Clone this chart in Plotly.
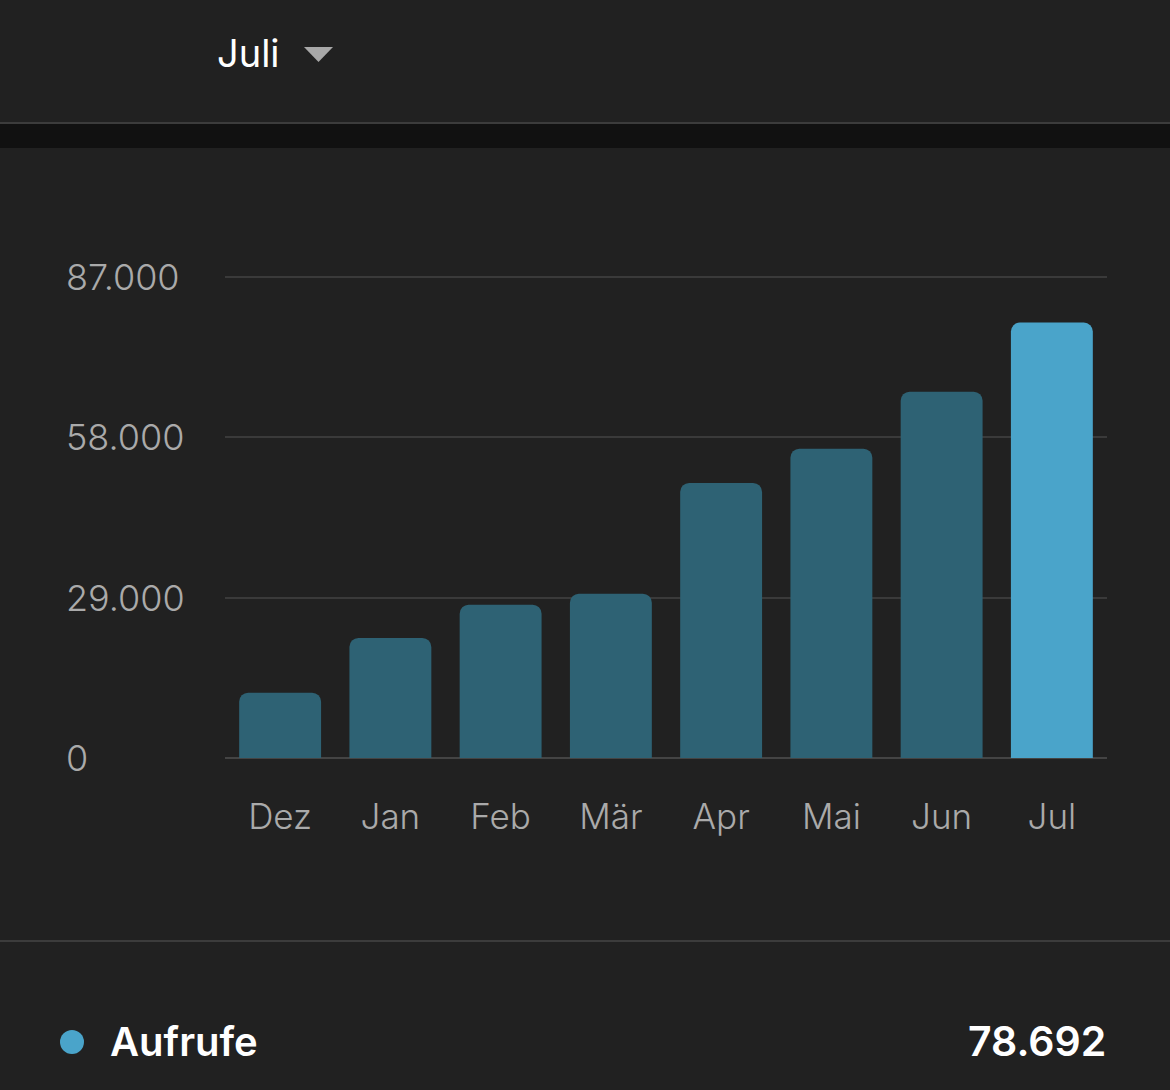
import plotly.graph_objects as go

months = ["Dez", "Jan", "Feb", "Mär", "Apr", "Mai", "Jun", "Jul"]
views = [11800, 21700, 27700, 29700, 49700, 55900, 66200, 78692]
y_ticks = [0, 29000, 58000, 87000]
y_tick_labels = ["0", "29.000", "58.000", "87.000"]
selected_month = "Juli"
legend_name = "Aufrufe"
legend_value = "78.692"

BG = "#212121"
DIM = "#2e6274"
BRIGHT = "#4aa4ca"
GRID = "#3a3a3a"
FONT = "Inter"

# pixel -> paper helpers (plot area: x 225..1107, y bottom 758, height 487)
L, R, T, B = 225, 63, 271, 332
PW = 1170 - L - R
PH = 1090 - T - B
def X(px):
    return (px - L) / PW
def Y(py):
    return (1090 - B - py) / PH

colors = [BRIGHT if i == len(views) - 1 else DIM for i in range(len(views))]

fig = go.Figure(go.Bar(
    x=months, y=views,
    marker=dict(color=colors, line=dict(width=0), cornerradius=9),
    hoverinfo="skip",
))

shapes = [
    dict(type="rect", xref="paper", yref="paper", x0=X(0), x1=X(1170), y0=Y(148), y1=Y(124),
         fillcolor="#111111", line=dict(width=0), layer="below"),
    dict(type="rect", xref="paper", yref="paper", x0=X(0), x1=X(1170), y0=Y(124), y1=Y(122),
         fillcolor="#3c3c3c", line=dict(width=0), layer="below"),
    dict(type="rect", xref="paper", yref="paper", x0=X(0), x1=X(1170), y0=Y(942), y1=Y(940),
         fillcolor="#3c3c3c", line=dict(width=0), layer="below"),
    dict(type="path", xref="paper", yref="paper",
         path=f"M {X(304)} {Y(47)} L {X(333)} {Y(47)} L {X(318.5)} {Y(62)} Z",
         fillcolor="#a8a8a8", line=dict(width=0)),
    dict(type="circle", xref="paper", yref="paper", x0=X(60), x1=X(84), y0=Y(1054), y1=Y(1030),
         fillcolor=BRIGHT, line=dict(width=0)),
]

annotations = [
    dict(text=selected_month, xref="paper", yref="paper", x=X(215), y=Y(53),
         xanchor="left", yanchor="middle", showarrow=False,
         font=dict(family=FONT, size=38, color="#ffffff")),
    dict(text=legend_name, xref="paper", yref="paper", x=X(108), y=Y(1041),
         xanchor="left", yanchor="middle", showarrow=False,
         font=dict(family=FONT, size=40, color="#ffffff", weight=600)),
    dict(text=legend_value, xref="paper", yref="paper", x=X(1108), y=Y(1041),
         xanchor="right", yanchor="middle", showarrow=False,
         font=dict(family=FONT, size=41, color="#ffffff", weight=600)),
]
for v, t in zip(y_ticks, y_tick_labels):
    annotations.append(dict(text=t, xref="paper", yref="y", x=X(64), y=v,
                            xanchor="left", yanchor="middle", showarrow=False,
                            font=dict(family=FONT, size=36, color="#aaaaaa", weight=300)))

fig.update_layout(
    width=1170, height=1090,
    margin=dict(l=L, r=R, t=T, b=B),
    paper_bgcolor=BG, plot_bgcolor=BG,
    bargap=0.257,
    showlegend=False,
    shapes=shapes,
    annotations=annotations,
    xaxis=dict(showgrid=False, showline=False, zeroline=False, ticks="",
               tickfont=dict(family=FONT, size=35, color="#aaaaaa", weight=300),
               ticklabelstandoff=35, fixedrange=True),
    yaxis=dict(range=[0, 88000], tickvals=y_ticks, showticklabels=False,
               showgrid=True, gridcolor=GRID, gridwidth=2,
               zeroline=True, zerolinecolor="#444444", zerolinewidth=2,
               showline=False, fixedrange=True),
)

fig.write_html("out.html", config=dict(displayModeBar=False))
